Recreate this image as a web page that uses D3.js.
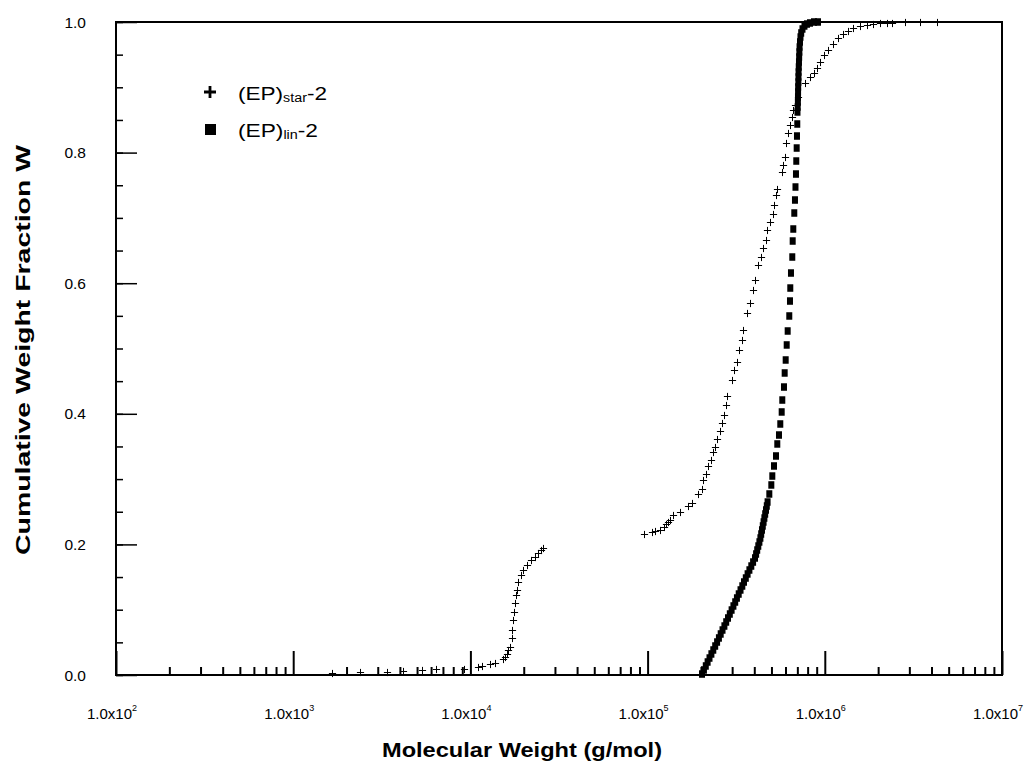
<!DOCTYPE html>
<html><head><meta charset="utf-8">
<script src="https://cdn.jsdelivr.net/npm/d3@7/dist/d3.min.js"></script>
<style>body{margin:0;background:#fff} svg{display:block} text{font-family:"Liberation Sans",Arial,Helvetica,sans-serif;fill:#000}</style>
</head><body><svg id="c" width="1029" height="770"></svg>
<script>
// ---- data ----
const starM = [1650,2380,3380,4170,5330,6390,9200,11040,11630,12900,13770,15280,15680,16090,16300,16730,17100,17240,17470,17690,17860,18090,18260,18640,19230,19730,20780,21980,23150,23980,24930,25790,
 95440,105900,110100,117500,123800,127000,130300,133800,139100,152300,169000,178000,192500,202800,205400,213600,219200,227900,233900,240100,246400,256200,263000,269900,277000,280600,
 299500,307400,319600,328000,341000,345500,364000,378400,393400,403800,419800,436500,448000,465800,471900,490600,510200,516800,530400,537300,573400,580900,596200,
 603900,619800,636100,652800,661300,678700,705700,773100,825300,869000,903600,939500,989700,1042000,1113000,1187000,1267000,1352000,1443000,1580000,1730000,1871000,2049000,2244000,2394000,2836000,3445000,4298000];
const starW = [0.0026,0.0046,0.0046,0.0061,0.0077,0.0092,0.0092,0.0123,0.0138,0.0168,0.0184,0.0245,0.0276,0.0322,0.0383,0.0429,0.0567,0.0689,0.0842,0.0965,0.1103,0.1225,0.1302,0.1424,0.1531,0.1608,0.1685,0.1761,0.1807,0.1868,0.1914,0.1945,
 0.2159,0.2190,0.2205,0.2221,0.2266,0.2312,0.2343,0.2374,0.2450,0.2496,0.2588,0.2634,0.2772,0.2848,0.2986,0.3078,0.3201,0.3292,0.3415,0.3492,0.3614,0.3737,0.3859,0.3982,0.4135,0.4273,
 0.4518,0.4671,0.4793,0.4977,0.5130,0.5283,0.5544,0.5697,0.5896,0.6049,0.6279,0.6401,0.6539,0.6662,0.6815,0.6937,0.7060,0.7198,0.7351,0.7443,0.7703,0.7810,0.7933,
 0.8147,0.8300,0.8423,0.8545,0.8652,0.8729,0.8851,0.9066,0.9158,0.9219,0.9296,0.9387,0.9495,0.9571,0.9663,0.9755,0.9816,0.9862,0.9908,0.9939,0.9954,0.9969,0.9985,0.9985,0.9985,1.0,1.0,1.0];

const linM = [202800,207900,213000,218100,223500,229100,234800,240700,246700,252600,258500,264700,271300,277700,284300,291000,297900,305000,312200,319200,326700,334500,342400,349900,358200,366700,375400,384800,393900,403800,409600,415500,421400,427500,433100,437600,442100,446700,451400,456100,460900,465800,470600,475500,
 486300,499100,505600,516800,530400,539400,551400,560800,571100,575600,588400,593700,601500,609500,617300,630300,636100,638600,644400,655400,658800,664000,672700,678700,683200,687600,690300,693900,696600,699300,
 701100,703100,704900,705700,706600,707500,709400,710300,711200,713000,714900,716700,718600,720500,724400,729000,735800,748200,767900,793200,825300,869000,915400];
const linW = [0.0015,0.0077,0.0138,0.0199,0.0260,0.0322,0.0383,0.0444,0.0505,0.0567,0.0628,0.0689,0.0750,0.0812,0.0873,0.0934,0.0995,0.1057,0.1118,0.1179,0.1240,0.1302,0.1363,0.1424,0.1485,0.1547,0.1608,0.1669,0.1730,0.1792,0.1853,0.1914,0.1975,0.2037,0.2098,0.2159,0.2221,0.2282,0.2343,0.2404,0.2466,0.2527,0.2588,0.2649,
 0.2772,0.2910,0.3047,0.3201,0.3354,0.3538,0.3675,0.3844,0.4028,0.4211,0.4410,0.4625,0.4824,0.5054,0.5268,0.5498,0.5727,0.5926,0.6156,0.6401,0.6646,0.6830,0.7075,0.7274,0.7473,0.7672,0.7871,0.8070,0.8254,0.8438,
 0.8622,0.8698,0.8775,0.8851,0.8928,0.9005,0.9081,0.9158,0.9234,0.9311,0.9387,0.9464,0.9541,0.9617,0.9694,0.9770,0.9832,0.9893,0.9939,0.9969,0.9985,1.0,1.0];

const xTickExponents = [2,3,4,5,6,7];
const yTickValues = [0,0.2,0.4,0.6,0.8,1.0];
const yTickLabels = ["0.0","0.2","0.4","0.6","0.8","1.0"];
const legendEntries = [{sub:"star", shape:"plus"},{sub:"lin", shape:"square"}];
const xTitle = "Molecular Weight (g/mol)";
const yTitle = "Cumulative Weight Fraction W";

// ---- layout ----
const L = 116, R = 1002, T = 22, B = 675;
const svg = d3.select("#c");
const x = d3.scaleLog().domain([1e2, 1e7]).range([L, R]);
const y = d3.scaleLinear().domain([0, 1]).range([B, T]);

const majorX = xTickExponents.map(e => Math.pow(10, e));
const minorX = [];
for (let e = 2; e < 7; e++) for (let k = 2; k <= 9; k++) minorX.push(k * Math.pow(10, e));

const gx = svg.append("g").attr("transform", `translate(0,${B})`);
gx.append("g").call(d3.axisBottom(x).tickValues(minorX).tickSize(-8).tickFormat(""))
  .call(g => g.select(".domain").remove())
  .selectAll("line").attr("stroke", "#000").attr("stroke-width", 2);
gx.append("g").call(d3.axisBottom(x).tickValues(majorX).tickSize(-24).tickFormat(""))
  .call(g => g.select(".domain").remove())
  .selectAll("line").attr("stroke", "#000").attr("stroke-width", 2);

const minorY = d3.range(0, 21).map(i => i * 0.05);
const gy = svg.append("g").attr("transform", `translate(${L},0)`);
gy.append("g").call(d3.axisLeft(y).tickValues(minorY).tickSize(-7).tickFormat(""))
  .call(g => g.select(".domain").remove())
  .selectAll("line").attr("stroke", "#000").attr("stroke-width", 1.5);
gy.append("g").call(d3.axisLeft(y).tickValues(yTickValues).tickSize(-21).tickFormat(""))
  .call(g => g.select(".domain").remove())
  .selectAll("line").attr("stroke", "#000").attr("stroke-width", 1.5);

svg.append("rect").attr("x", L).attr("y", T).attr("width", R - L).attr("height", B - T)
  .attr("fill", "none").attr("stroke", "#000").attr("stroke-width", 2);

// x tick labels
xTickExponents.forEach(e => {
  const t = svg.append("text").attr("x", x(Math.pow(10, e)) - 4).attr("y", 719)
    .attr("text-anchor", "middle").attr("font-size", 15);
  t.append("tspan").text("1.0x10");
  t.append("tspan").attr("font-size", 9).attr("dy", -8).text(e);
});
// y tick labels
yTickValues.forEach((v, i) => {
  svg.append("text").attr("x", 86).attr("y", y(v) + 5.5).attr("text-anchor", "end")
    .attr("font-size", 15.5).text(yTickLabels[i]);
});

// titles
svg.append("text").attr("x", 382).attr("y", 757)
  .attr("font-size", 19.5).attr("font-weight", "bold")
  .attr("textLength", 280).attr("lengthAdjust", "spacingAndGlyphs").text(xTitle);
svg.append("text").attr("transform", "translate(30,555) rotate(-90)")
  .attr("font-size", 20).attr("font-weight", "bold")
  .attr("textLength", 410).attr("lengthAdjust", "spacingAndGlyphs").text(yTitle);

// data
const lin = linM.map((m, i) => ({m, w: linW[i]}));
const star = starM.map((m, i) => ({m, w: starW[i]}));

svg.append("g").selectAll("rect").data(lin).join("rect")
  .attr("x", d => x(d.m) - 3).attr("y", d => y(d.w) - 3.75)
  .attr("width", 6).attr("height", 7.5).attr("fill", "#000");

const ps = 3.6;
svg.append("g").attr("stroke", "#000").attr("stroke-width", 1).attr("fill", "none")
  .selectAll("path").data(star).join("path")
  .attr("d", d => { const cx = Math.round(x(d.m)) + 0.5, cy = Math.round(y(d.w)) + 0.5;
    return `M${cx - ps},${cy}H${cx + ps}M${cx},${cy - ps}V${cy + ps}`; });

// legend
const lg = svg.append("g");
const legendLen = [89, 80];
legendEntries.forEach((e, i) => {
  const cy = 92 + i * 37;
  if (e.shape === "plus") {
    lg.append("path").attr("d", `M${204},${cy}H${216}M${210},${cy - 6}V${cy + 6}`)
      .attr("stroke", "#000").attr("stroke-width", 2.8);
  } else {
    lg.append("rect").attr("x", 205).attr("y", cy - 5).attr("width", 11).attr("height", 11).attr("fill", "#000");
  }
  const t = lg.append("text").attr("x", 238).attr("y", cy + 8).attr("font-size", 19)
    .attr("textLength", legendLen[i]).attr("lengthAdjust", "spacingAndGlyphs");
  t.append("tspan").text("(EP)");
  t.append("tspan").attr("font-size", 12).attr("dy", 2).text(e.sub);
  t.append("tspan").attr("dy", -2).text("-2");
});
</script></body></html>
